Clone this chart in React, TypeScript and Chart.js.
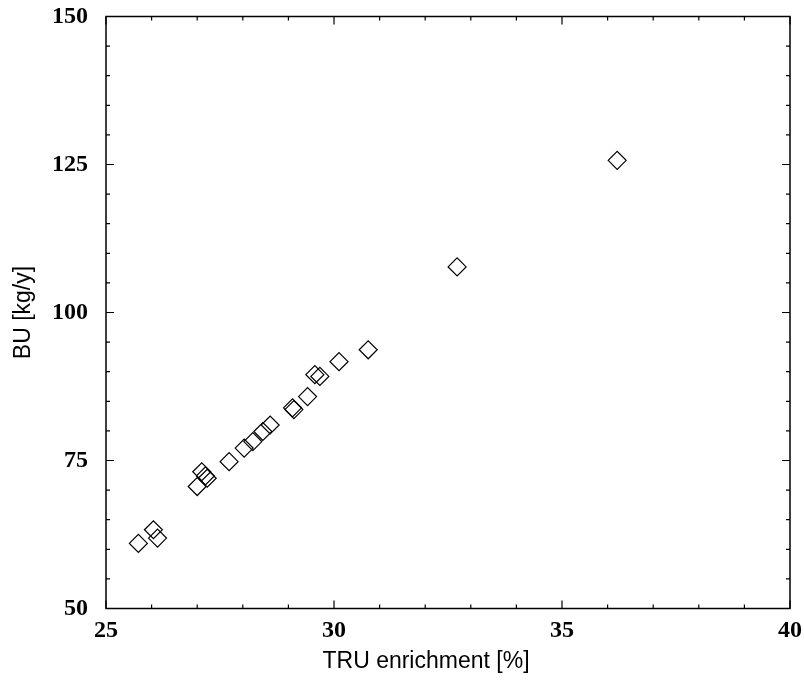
import React, { useEffect, useRef } from "react";
import { Chart, registerables } from "chart.js";

Chart.register(...registerables);

const truEnrichment = [25.71, 26.04, 26.13, 27.0, 27.1, 27.18, 27.22, 27.7, 28.03, 28.22, 28.44, 28.6, 29.09, 29.12, 29.42, 29.58, 29.69, 30.11, 30.75, 32.7, 36.21];
const burnup = [61.0, 63.3, 61.9, 70.6, 73.1, 72.4, 72.0, 74.8, 77.1, 78.2, 79.9, 81.0, 83.9, 83.6, 85.8, 89.5, 89.2, 91.7, 93.7, 107.7, 125.7];

const xRange = [25, 40];
const yRange = [50, 150];
const xMajorStep = 5;
const xMinorStep = 1;
const yMajorStep = 25;
const yMinorStep = 5;

const xTitle = "TRU enrichment [%]";
const yTitle = "BU [kg/y]";

const titleFamily = "'Liberation Sans', Arial, sans-serif";

const framePlugin = {
  id: "frameTicks",
  afterDatasetsDraw(chart: any) {
    const { ctx, chartArea } = chart;
    const xs = chart.scales.x;
    const ys = chart.scales.y;
    const { left, right, top, bottom } = chartArea;
    ctx.save();
    ctx.strokeStyle = "#000";
    ctx.lineWidth = 1.5;
    ctx.strokeRect(left, top, right - left, bottom - top);
    ctx.lineWidth = 1.2;
    ctx.beginPath();
    for (let v = xRange[0]; v <= xRange[1] + 1e-9; v += xMinorStep) {
      const px = xs.getPixelForValue(v);
      const len = Math.abs(v / xMajorStep - Math.round(v / xMajorStep)) < 1e-6 ? 8 : 4;
      ctx.moveTo(px, bottom);
      ctx.lineTo(px, bottom - len);
      ctx.moveTo(px, top);
      ctx.lineTo(px, top + len);
    }
    for (let v = yRange[0]; v <= yRange[1] + 1e-9; v += yMinorStep) {
      const py = ys.getPixelForValue(v);
      const len = Math.abs(v / yMajorStep - Math.round(v / yMajorStep)) < 1e-6 ? 8 : 4;
      ctx.moveTo(left, py);
      ctx.lineTo(left + len, py);
      ctx.moveTo(right, py);
      ctx.lineTo(right - len, py);
    }
    ctx.stroke();
    // x-axis title (placed slightly left of centre, as in the reference)
    ctx.fillStyle = "#000";
    ctx.font = `23px ${titleFamily}`;
    ctx.textAlign = "center";
    ctx.textBaseline = "middle";
    ctx.fillText(xTitle, (left + right) / 2 - 22, 662);
    ctx.restore();
  },
};

export default function App() {
  const ref = useRef<HTMLCanvasElement | null>(null);
  useEffect(() => {
    document.body.style.margin = "0";
    const canvas = ref.current;
    if (!canvas) return;
    const points = truEnrichment.map((x, i) => ({ x, y: burnup[i] }));
    const tickFont = { family: "'Liberation Serif', 'Times New Roman', serif", size: 24, weight: "bold" as const };
    const titleFont = { family: titleFamily, size: 23 };
    const chart = new Chart(canvas, {
      type: "scatter",
      data: {
        datasets: [
          {
            data: points,
            pointStyle: "rectRot",
            pointRadius: 9,
            pointHoverRadius: 9,
            borderColor: "#000",
            backgroundColor: "rgba(0,0,0,0)",
            borderWidth: 1.2,
          },
        ],
      },
      options: {
        animation: false,
        responsive: false,
        devicePixelRatio: 1,
        layout: { padding: { top: 16.5, right: 14, left: 0, bottom: 0 } },
        plugins: { legend: { display: false }, tooltip: { enabled: false } },
        scales: {
          x: {
            type: "linear",
            min: xRange[0],
            max: xRange[1],
            grid: { display: false, drawTicks: false, tickLength: 0 },
            border: { display: false },
            ticks: { stepSize: xMajorStep, color: "#000", font: tickFont, padding: 8, maxRotation: 0 },
            title: { display: false },
            afterFit: (s: any) => {
              s.height = 72.5;
              s.paddingLeft = 0;
              s.paddingRight = 0;
            },
          },
          y: {
            type: "linear",
            min: yRange[0],
            max: yRange[1],
            grid: { display: false, drawTicks: false, tickLength: 0 },
            border: { display: false },
            ticks: { stepSize: yMajorStep, color: "#000", font: tickFont, padding: 18 },
            title: { display: true, text: yTitle, color: "#000", font: titleFont, padding: { top: 10, bottom: 0 } },
            afterFit: (s: any) => {
              s.width = 106;
              s.paddingTop = 0;
              s.paddingBottom = 0;
            },
          },
        },
      },
      plugins: [framePlugin],
    });
    return () => chart.destroy();
  }, []);
  return (
    <div style={{ position: "absolute", left: 0, top: 0, width: 804, height: 681, background: "#fff" }}>
      <canvas ref={ref} width={804} height={681} style={{ width: 804, height: 681, display: "block" }} />
    </div>
  );
}
